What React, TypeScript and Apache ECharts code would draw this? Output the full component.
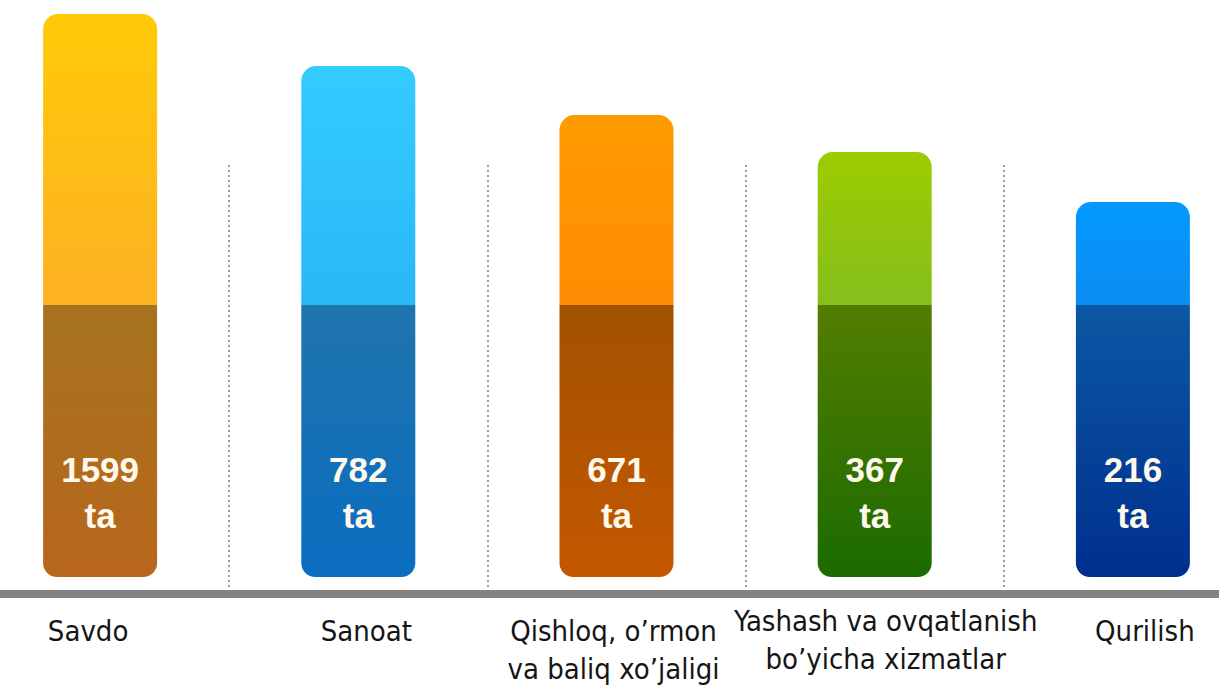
import React, { useEffect, useRef } from "react";
import * as echarts from "echarts";

// Categories (sectors) shown under the bars
const categories = [
  "Savdo",
  "Sanoat",
  "Qishloq, o’rmon\nva baliq xo’jaligi",
  "Yashash va ovqatlanish\nbo’yicha xizmatlar",
  "Qurilish",
];

// Counts printed on the bars
const counts = [1599, 782, 671, 367, 216];

// Visual bar segments (infographic heights, not proportional)
const lowerPart = [272, 272, 272, 272, 272];
const upperPart = [291, 239, 190, 153, 103];

// Styles
const upperColors: [string, string][] = [
  ["#FFCA08", "#FDB124"],
  ["#34CBFF", "#29B8F6"],
  ["#FF9B00", "#FF8C02"],
  ["#9CCC00", "#86BE1C"],
  ["#0499FF", "#0B8DF1"],
];
const lowerColors: [string, string][] = [
  ["#A6731F", "#B8661B"],
  ["#1F74AC", "#0A6DC1"],
  ["#A25200", "#C45700"],
  ["#537D00", "#1B6B00"],
  ["#0B58A4", "#002F8E"],
];
// per-category label padding (nudges each label like in the source)
const labelPadding: number[][] = [
  [0, 24, 0, 0],
  [0, 0, 0, 16],
  [0, 6, 0, 0],
  [-10, 0, 0, 22],
  [0, 0, 0, 24],
];

const grad = (c: [string, string]) =>
  new echarts.graphic.LinearGradient(0, 0, 0, 1, [
    { offset: 0, color: c[0] },
    { offset: 1, color: c[1] },
  ]);

const CAT_FONT = "'DejaVu Sans Condensed', 'Liberation Sans Narrow', sans-serif";
const NUM_FONT = "'Liberation Sans', Arial, sans-serif";

export default function App() {
  const ref = useRef<HTMLDivElement>(null);
  useEffect(() => {
    if (!ref.current) return;
    const chart = echarts.init(ref.current, undefined, { renderer: "svg" });
    chart.setOption({
      animation: false,
      backgroundColor: "#ffffff",
      grid: [
        { left: 0, right: 0, top: 14, bottom: 95 },
        { left: 0, right: 0, top: 165, bottom: 102 },
      ],
      xAxis: [
        {
          type: "category",
          gridIndex: 0,
          data: categories.map((c, i) => ({
            value: c,
            textStyle: { padding: labelPadding[i] },
          })),
          axisLine: { show: true, onZero: false, lineStyle: { color: "#828282", width: 8 } },
          axisTick: { show: false },
          axisLabel: {
            interval: 0,
            margin: 18,
            verticalAlign: "top",
            fontFamily: CAT_FONT,
            fontSize: 29,
            lineHeight: 38,
            color: "#151515",
          },
          splitLine: { show: false },
        },
        {
          type: "category",
          gridIndex: 1,
          data: categories,
          axisLine: { show: false },
          axisTick: { show: false },
          axisLabel: { show: false },
          splitLine: {
            show: true,
            lineStyle: { color: "#9c9c9c", width: 2, type: [2, 3] },
          },
        },
      ],
      yAxis: [
        { type: "value", gridIndex: 0, min: -17, max: 563, show: false, splitLine: { show: false } },
        { type: "value", gridIndex: 1, min: 0, max: 1, show: false, splitLine: { show: false } },
      ],
      series: [
        {
          type: "bar",
          stack: "bar",
          xAxisIndex: 0,
          yAxisIndex: 0,
          barWidth: 114,
          data: lowerPart.map((v, i) => ({
            value: v,
            itemStyle: { color: grad(lowerColors[i]), borderRadius: [0, 0, 14, 14] },
          })),
          label: {
            show: true,
            position: "insideBottom",
            distance: 39,
            formatter: (p: any) => `${counts[p.dataIndex]}\nta`,
            fontFamily: NUM_FONT,
            fontWeight: "bold",
            fontSize: 35,
            lineHeight: 46,
            color: "#FFF9EC",
          },
        },
        {
          type: "bar",
          stack: "bar",
          xAxisIndex: 0,
          yAxisIndex: 0,
          barWidth: 114,
          data: upperPart.map((v, i) => ({
            value: v,
            itemStyle: { color: grad(upperColors[i]), borderRadius: [15, 15, 0, 0] },
          })),
        },
      ],
    });
    return () => chart.dispose();
  }, []);
  return (
    <div
      ref={ref}
      style={{ position: "fixed", left: -29, top: 0, width: 1291, height: 689, background: "#fff" }}
    />
  );
}
